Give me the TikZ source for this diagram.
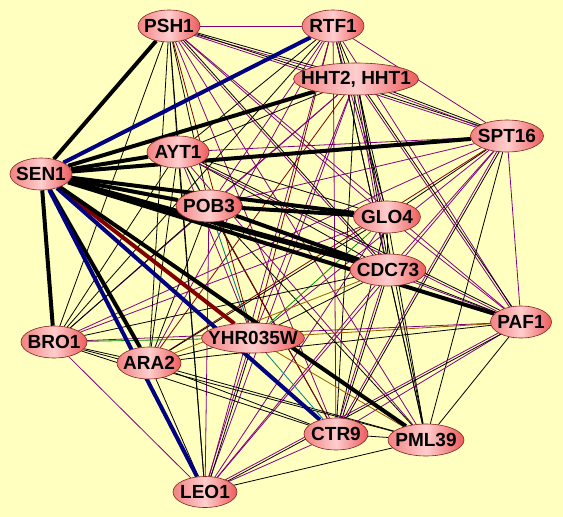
\documentclass[tikz,border=0pt]{standalone}
\usepackage{fontspec}
\setmainfont{Liberation Sans}
\usetikzlibrary{shapes.geometric,calc,backgrounds}
\definecolor{canvas}{RGB}{255,255,192}
\definecolor{nodeL}{RGB}{242,130,130}
\definecolor{nodeM}{RGB}{255,205,205}
\definecolor{nodeR}{RGB}{236,92,92}
\definecolor{nodeline}{RGB}{130,35,35}
\definecolor{epurple}{RGB}{128,0,128}
\definecolor{enavy}{RGB}{0,0,128}
\definecolor{emaroon}{RGB}{128,0,0}
\definecolor{eteal}{RGB}{0,128,128}
\definecolor{egreen}{RGB}{0,140,0}
\definecolor{ebrown}{RGB}{150,90,0}
\newcommand{\glab}[1]{\makebox[0pt]{#1}}

\begin{document}
\begin{tikzpicture}[x=1pt, y=-1pt,
  gene/.style={ellipse, draw=nodeline, line width=0.6pt, left color=nodeL, right color=nodeR, middle color=nodeM, minimum height=32pt, inner sep=0pt, font=\fontsize{19}{20}\selectfont\bfseries},
  link/.style={line width=0.8pt},
  bond/.style={line width=4pt}]
  \useasboundingbox (0,0) rectangle (563,517);
  % genes
  \node[gene, minimum width=62pt] (psh) at (169,26) {\glab{PSH1}};
  \node[gene, minimum width=62pt] (rtf) at (333,26) {\glab{RTF1}};
  \node[gene, minimum width=125pt] (hht) at (356,79) {\glab{HHT2, HHT1}};
  \node[gene, minimum width=73pt] (spt) at (507,136) {\glab{SPT16}};
  \node[gene, minimum width=62pt] (sen) at (41,174) {\glab{SEN1}};
  \node[gene, minimum width=62pt] (ayt) at (178,152) {\glab{AYT1}};
  \node[gene, minimum width=66pt] (pob) at (209,206) {\glab{POB3}};
  \node[gene, minimum width=67pt] (glo) at (387,217) {\glab{GLO4}};
  \node[gene, minimum width=76pt] (cdc) at (388,270) {\glab{CDC73}};
  \node[gene, minimum width=61pt] (paf) at (521,322) {\glab{PAF1}};
  \node[gene, minimum width=66pt] (bro) at (54,342) {\glab{BRO1}};
  \node[gene, minimum width=64pt] (ara) at (149,363) {\glab{ARA2}};
  \node[gene, minimum width=103pt, minimum height=30pt] (yhr) at (253,338) {\glab{YHR035W}};
  \node[gene, minimum width=64pt] (ctr) at (336,434) {\glab{CTR9}};
  \node[gene, minimum width=76pt] (pml) at (426,440) {\glab{PML39}};
  \node[gene, minimum width=64pt, minimum height=31pt] (leo) at (205,492) {\glab{LEO1}};

  \begin{scope}[on background layer]
    \fill[canvas] (0,0) rectangle (563,517);
    % thin links
    \foreach \a/\b/\c in {psh/rtf/epurple, psh/ayt/black, psh/pob/black, psh/glo/epurple,
      psh/paf/epurple, psh/bro/black, psh/ara/black, psh/yhr/emaroon, psh/ctr/epurple,
      psh/pml/epurple, psh/leo/black, rtf/hht/black, rtf/spt/epurple, rtf/ayt/black,
      rtf/pob/epurple, rtf/cdc/black, rtf/paf/epurple, rtf/bro/black, rtf/ara/epurple,
      rtf/yhr/emaroon, rtf/ctr/epurple, rtf/pml/black, rtf/leo/epurple, hht/ayt/black,
      hht/pob/epurple, hht/glo/black, hht/bro/epurple, hht/ara/emaroon, hht/yhr/epurple,
      hht/ctr/black, hht/pml/black, hht/leo/epurple, spt/ayt/epurple, spt/pob/epurple,
      spt/glo/black, spt/cdc/epurple, spt/paf/epurple, spt/bro/epurple, spt/ara/emaroon,
      spt/yhr/epurple, spt/pml/black, spt/leo/epurple, ayt/pob/eteal, ayt/glo/black,
      ayt/cdc/black, ayt/bro/black, ayt/ara/black, ayt/yhr/epurple, ayt/ctr/black,
      ayt/pml/epurple, ayt/leo/black, pob/paf/epurple, pob/bro/black, pob/ara/black,
      pob/yhr/eteal, pob/ctr/emaroon, pob/pml/black, pob/leo/epurple, glo/cdc/black,
      glo/paf/epurple, glo/bro/epurple, glo/ara/black, glo/yhr/egreen, glo/ctr/black,
      glo/pml/black, glo/leo/epurple, cdc/paf/black, cdc/bro/black, cdc/ara/ebrown,
      cdc/yhr/black, cdc/pml/black, cdc/leo/epurple, paf/bro/epurple, paf/ara/black,
      paf/yhr/ebrown, paf/ctr/epurple, paf/pml/black, bro/ara/black, bro/yhr/egreen,
      bro/ctr/black, bro/pml/black, bro/leo/epurple, ara/yhr/black, ara/ctr/black,
      ara/pml/black, ara/leo/black, yhr/ctr/eteal, yhr/pml/ebrown, ctr/pml/black,
      ctr/leo/epurple, pml/leo/black}
      \draw[link, \c] (\a) -- (\b);
    % paired links
    \foreach \a/\b in {psh/hht, psh/spt, psh/cdc, rtf/glo, hht/spt, hht/cdc, hht/paf,
      spt/ctr, ayt/paf, cdc/ctr, paf/leo, yhr/leo} {
      \draw[link] ($(\a)!1.1pt!90:(\b)$) -- ($(\b)!1.1pt!-90:(\a)$);
      \draw[link, epurple] ($(\a)!1.1pt!-90:(\b)$) -- ($(\b)!1.1pt!90:(\a)$);
    }
    % heavy links
    \foreach \b/\c in {psh/black, rtf/enavy, hht/black, spt/black, ayt/black, pob/black,
      glo/black, paf/black, bro/black, ara/black, yhr/emaroon, ctr/enavy, pml/black, leo/enavy}
      \draw[bond, \c] (sen) -- (\b);
    \draw[bond, line width=5.5pt] (sen) -- (cdc);
    \draw[bond] (pob) -- (glo);
    \draw[bond] (pob) -- (cdc);
  \end{scope}
\end{tikzpicture}
\end{document}
